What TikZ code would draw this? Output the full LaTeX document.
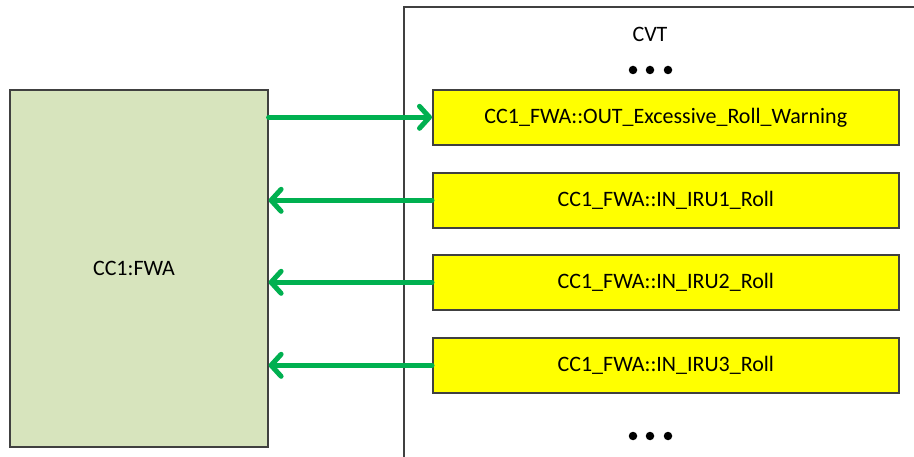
\documentclass[tikz,border=0pt]{standalone}
\usepackage{fontspec}
\setmainfont{Carlito}
\usetikzlibrary{arrows.meta}
\definecolor{framegray}{RGB}{64,64,64}
\definecolor{fwafill}{RGB}{215,228,189}
\definecolor{sigyellow}{RGB}{255,255,0}
\definecolor{flowgreen}{RGB}{0,176,80}
\tikzset{
  lbl/.style={font=\fontsize{22}{26}\selectfont},
  signal/.style={lbl, draw=framegray, line width=1.6pt, fill=sigyellow,
    minimum width=466pt, minimum height=55pt, inner sep=0pt},
  flow/.style={draw=flowgreen, line width=5pt, line cap=round,
    -{Straight Barb[round,length=10pt,width=22pt]}},
  dotmark/.style={circle, fill=black, minimum size=8.5pt, inner sep=0pt}
}
\begin{document}
\begin{tikzpicture}[x=1pt,y=-1pt]
  \useasboundingbox (0,0) rectangle (914,457);
  % CVT container, open to the right and bottom
  \draw[framegray, line width=1.5pt] (404,470) -- (404,7) -- (930,7);
  \node[lbl] (cvt) at (650,34) {CVT};
  \node[dotmark] (d1) at (633,70) {};
  \node[dotmark] (d2) at (650,70) {};
  \node[dotmark] (d3) at (668,70) {};
  \node[dotmark] (e1) at (633,436) {};
  \node[dotmark] (e2) at (650,436) {};
  \node[dotmark] (e3) at (668,436) {};
  % FWA component
  \node[draw=framegray, line width=1.6pt, fill=fwafill, minimum width=258pt,
        minimum height=357pt, inner sep=0pt, anchor=north west] (fwa) at (9,89) {};
  \node[lbl] (fwalabel) at (134,268) {CC1:FWA};
  % signals
  \node[signal, anchor=north west] (out)  at (432,89)  {CC1\_FWA::OUT\_Excessive\_Roll\_Warning};
  \node[signal, anchor=north west] (iru1) at (432,172) {CC1\_FWA::IN\_IRU1\_Roll};
  \node[signal, anchor=north west] (iru2) at (432,254) {CC1\_FWA::IN\_IRU2\_Roll};
  \node[signal, anchor=north west] (iru3) at (432,337) {CC1\_FWA::IN\_IRU3\_Roll};
  % data flows
  \draw[flow] (fwa.east |- out.west) -- (out.west);
  \draw[flow] (iru1.west) -- (fwa.east |- iru1.west);
  \draw[flow] (iru2.west) -- (fwa.east |- iru2.west);
  \draw[flow] (iru3.west) -- (fwa.east |- iru3.west);
\end{tikzpicture}
\end{document}
